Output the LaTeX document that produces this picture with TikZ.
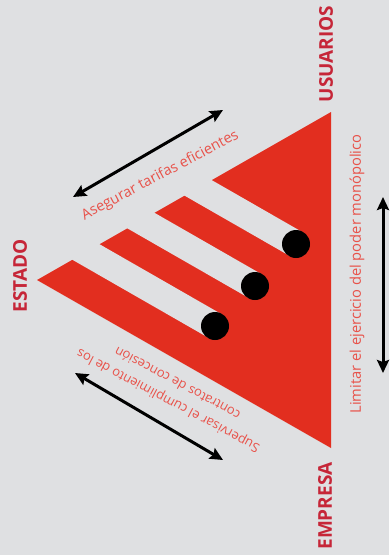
\documentclass[tikz,border=0pt]{standalone}
\usepackage{fontspec}
\setmainfont{Open Sans}
\usetikzlibrary{arrows.meta,calc}
\definecolor{bg}{RGB}{223,224,226}
\definecolor{tri}{RGB}{226,46,31}
\definecolor{lab}{RGB}{198,38,56}
\definecolor{txt}{RGB}{232,82,74}
\begin{document}
\begin{tikzpicture}[x=1pt,y=-1pt,
  corner/.style={font=\bfseries\fontsize{19}{19}\selectfont, text=lab, rotate=90, inner sep=0pt},
  note/.style={text=txt, inner sep=0pt},
  dbl/.style={line width=3pt, {Stealth[length=13pt,width=12pt,inset=2pt]}-{Stealth[length=13pt,width=12pt,inset=2pt]}},
  band/.style={line width=27pt, bg},
  dot/.style={circle, fill=black, minimum size=28pt, inner sep=0pt}]
\useasboundingbox (0,0) rectangle (389,555);
\fill[bg] (0,0) rectangle (389,555);
\coordinate (L) at (37,280);
\coordinate (U) at (331,112);
\coordinate (E) at (331,448);
\coordinate (c1) at (215,326);
\coordinate (c2) at (255,286);
\coordinate (c3) at (296,244);
\fill[tri] (L) -- (U) -- (E) -- cycle;
\foreach \c in {c1,c2,c3} {
  \draw[band] ($(\c)+(-173.5,-99.5)$) -- (\c);
}
\node[dot] (d1) at (c1) {};
\node[dot] (d2) at (c2) {};
\node[dot] (d3) at (c3) {};
% arrows
\coordinate (a1) at (73,197);
\coordinate (a2) at (223,110);
\coordinate (b1) at (75,373);
\coordinate (b2) at (223,460);
\coordinate (v1) at (383,197);
\coordinate (v2) at (383,373);
\draw[dbl] (a1) -- (a2);
\draw[dbl] (b1) -- (b2);
\draw[dbl] (v1) -- (v2);
% labels
\node[corner] (estado) at (20,276) {ESTADO};
\node[corner] (usuarios) at (326,54) {USUARIOS};
\node[corner] (empresa) at (325,506) {EMPRESA};
\node[note, font=\fontsize{14.7}{17}\selectfont, rotate=90] (limitar) at (357,274) {Limitar el ejercicio del poder monópolico};
\node[note, font=\fontsize{14.5}{17}\selectfont, rotate=28, anchor=base] (asegurar) at (162,179) {Asegurar tarifas eficientes};
\node[note, font=\fontsize{13}{20}\selectfont, rotate=152, align=center] (supervisar) at (172.5,392.5) {Supervisar el cumplimiento de los\\contratos de concesión};
\end{tikzpicture}
\end{document}
